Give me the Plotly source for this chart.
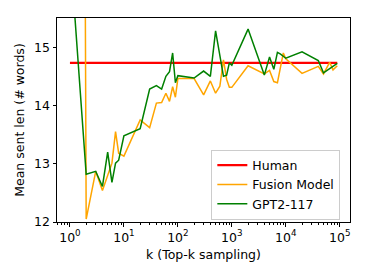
import plotly.graph_objects as go

# ---- data ----
human_k = [1, 90000]
human_v = [14.73, 14.73]

fusion_k = [1, 2, 3, 4, 6, 7, 8, 10, 20, 30, 40, 50, 60, 70, 80, 90, 100, 200, 300, 400,
            500, 600, 700, 800, 900, 1000, 2000, 4000, 5000, 6000, 7000, 9000, 10000,
            20000, 40000, 50000, 65000, 75000, 90000]
fusion_v = [80.0, 12.05, 12.87, 12.54, 13.01, 13.55, 13.18, 13.13, 13.75, 13.62, 14.04, 14.05,
            14.21, 14.07, 14.32, 14.14, 14.46, 14.46, 14.18, 14.42, 14.21, 14.33, 14.78, 14.45,
            14.31, 14.31, 14.68, 14.54, 14.6, 14.41, 14.39, 14.9, 14.8, 14.55, 14.67, 14.54,
            14.74, 14.61, 14.68]

gpt_k = [1, 2, 3, 4, 5, 6, 7, 8, 10, 20, 30, 40, 50, 60, 70, 80, 90, 100, 200, 300, 400,
         500, 700, 800, 900, 1000, 2000, 4000, 5000, 6000, 7000, 8000, 10000, 20000,
         40000, 50000, 90000]
gpt_v = [16.7, 12.82, 12.87, 12.61, 13.2, 12.68, 13.01, 13.06, 13.48, 13.6, 14.28, 14.34,
         14.28, 14.5, 14.58, 14.9, 14.39, 14.51, 14.47, 14.59, 14.5, 15.28, 14.5, 14.52,
         14.73, 14.69, 15.31, 14.52, 14.83, 14.62, 14.91, 14.88, 14.81, 14.92, 14.77,
         14.56, 14.72]

x_tickvals = [1, 10, 100, 1000, 10000, 100000]
x_ticktext = ["10<sup>0</sup>", "10<sup>1</sup>", "10<sup>2</sup>", "10<sup>3</sup>",
              "10<sup>4</sup>", "10<sup>5</sup>"]
y_tickvals = [12, 13, 14, 15]

minor_vals = [m * 10 ** d for d in range(-1, 6) for m in range(2, 10)]

FONT = "DejaVu Sans"

fig = go.Figure()
fig.add_trace(go.Scatter(x=human_k, y=human_v, mode="lines", name="Human",
                         line=dict(color="#ff0000", width=2.2)))
fig.add_trace(go.Scatter(x=fusion_k, y=fusion_v, mode="lines", name="Fusion Model",
                         line=dict(color="#ffa500", width=1.5)))
fig.add_trace(go.Scatter(x=gpt_k, y=gpt_v, mode="lines", name="GPT2-117",
                         line=dict(color="#008000", width=1.5)))

fig.update_layout(
    width=369, height=277,
    margin=dict(l=57, r=19, t=18, b=55),
    paper_bgcolor="white", plot_bgcolor="white",
    font=dict(family=FONT, size=12.5, color="black"),
    showlegend=True,
    legend=dict(x=0.967, y=0.012, xanchor="right", yanchor="bottom",
                bgcolor="rgba(255,255,255,0.85)", bordercolor="#cccccc", borderwidth=1,
                font=dict(family=FONT, size=12.5, color="black"),
                tracegroupgap=0, itemwidth=30),
)

fig.update_xaxes(
    type="log", range=[-0.24, 5.19],
    tickmode="array", tickvals=x_tickvals, ticktext=x_ticktext,
    ticks="outside", ticklen=3.5, tickwidth=0.8, tickcolor="black",
    showgrid=False, zeroline=False,
    showline=True, linecolor="black", linewidth=1, mirror=True,
    minor=dict(tickmode="array", tickvals=minor_vals, ticks="outside", ticklen=2,
               tickwidth=0.6, tickcolor="black", showgrid=False),
    title=dict(text="k (Top-k sampling)", font=dict(family=FONT, size=12.5), standoff=6),
)
fig.update_yaxes(
    range=[12, 15.5],
    tickmode="array", tickvals=y_tickvals,
    ticks="outside", ticklen=3.5, tickwidth=0.8, tickcolor="black",
    showgrid=False, zeroline=False,
    showline=True, linecolor="black", linewidth=1, mirror=True,
    title=dict(text="Mean sent len (# words)", font=dict(family=FONT, size=12.5), standoff=6),
)

fig.write_html("out.html",
               config={"displayModeBar": False},
               post_script="document.body.style.margin='0';document.body.style.padding='0';")
